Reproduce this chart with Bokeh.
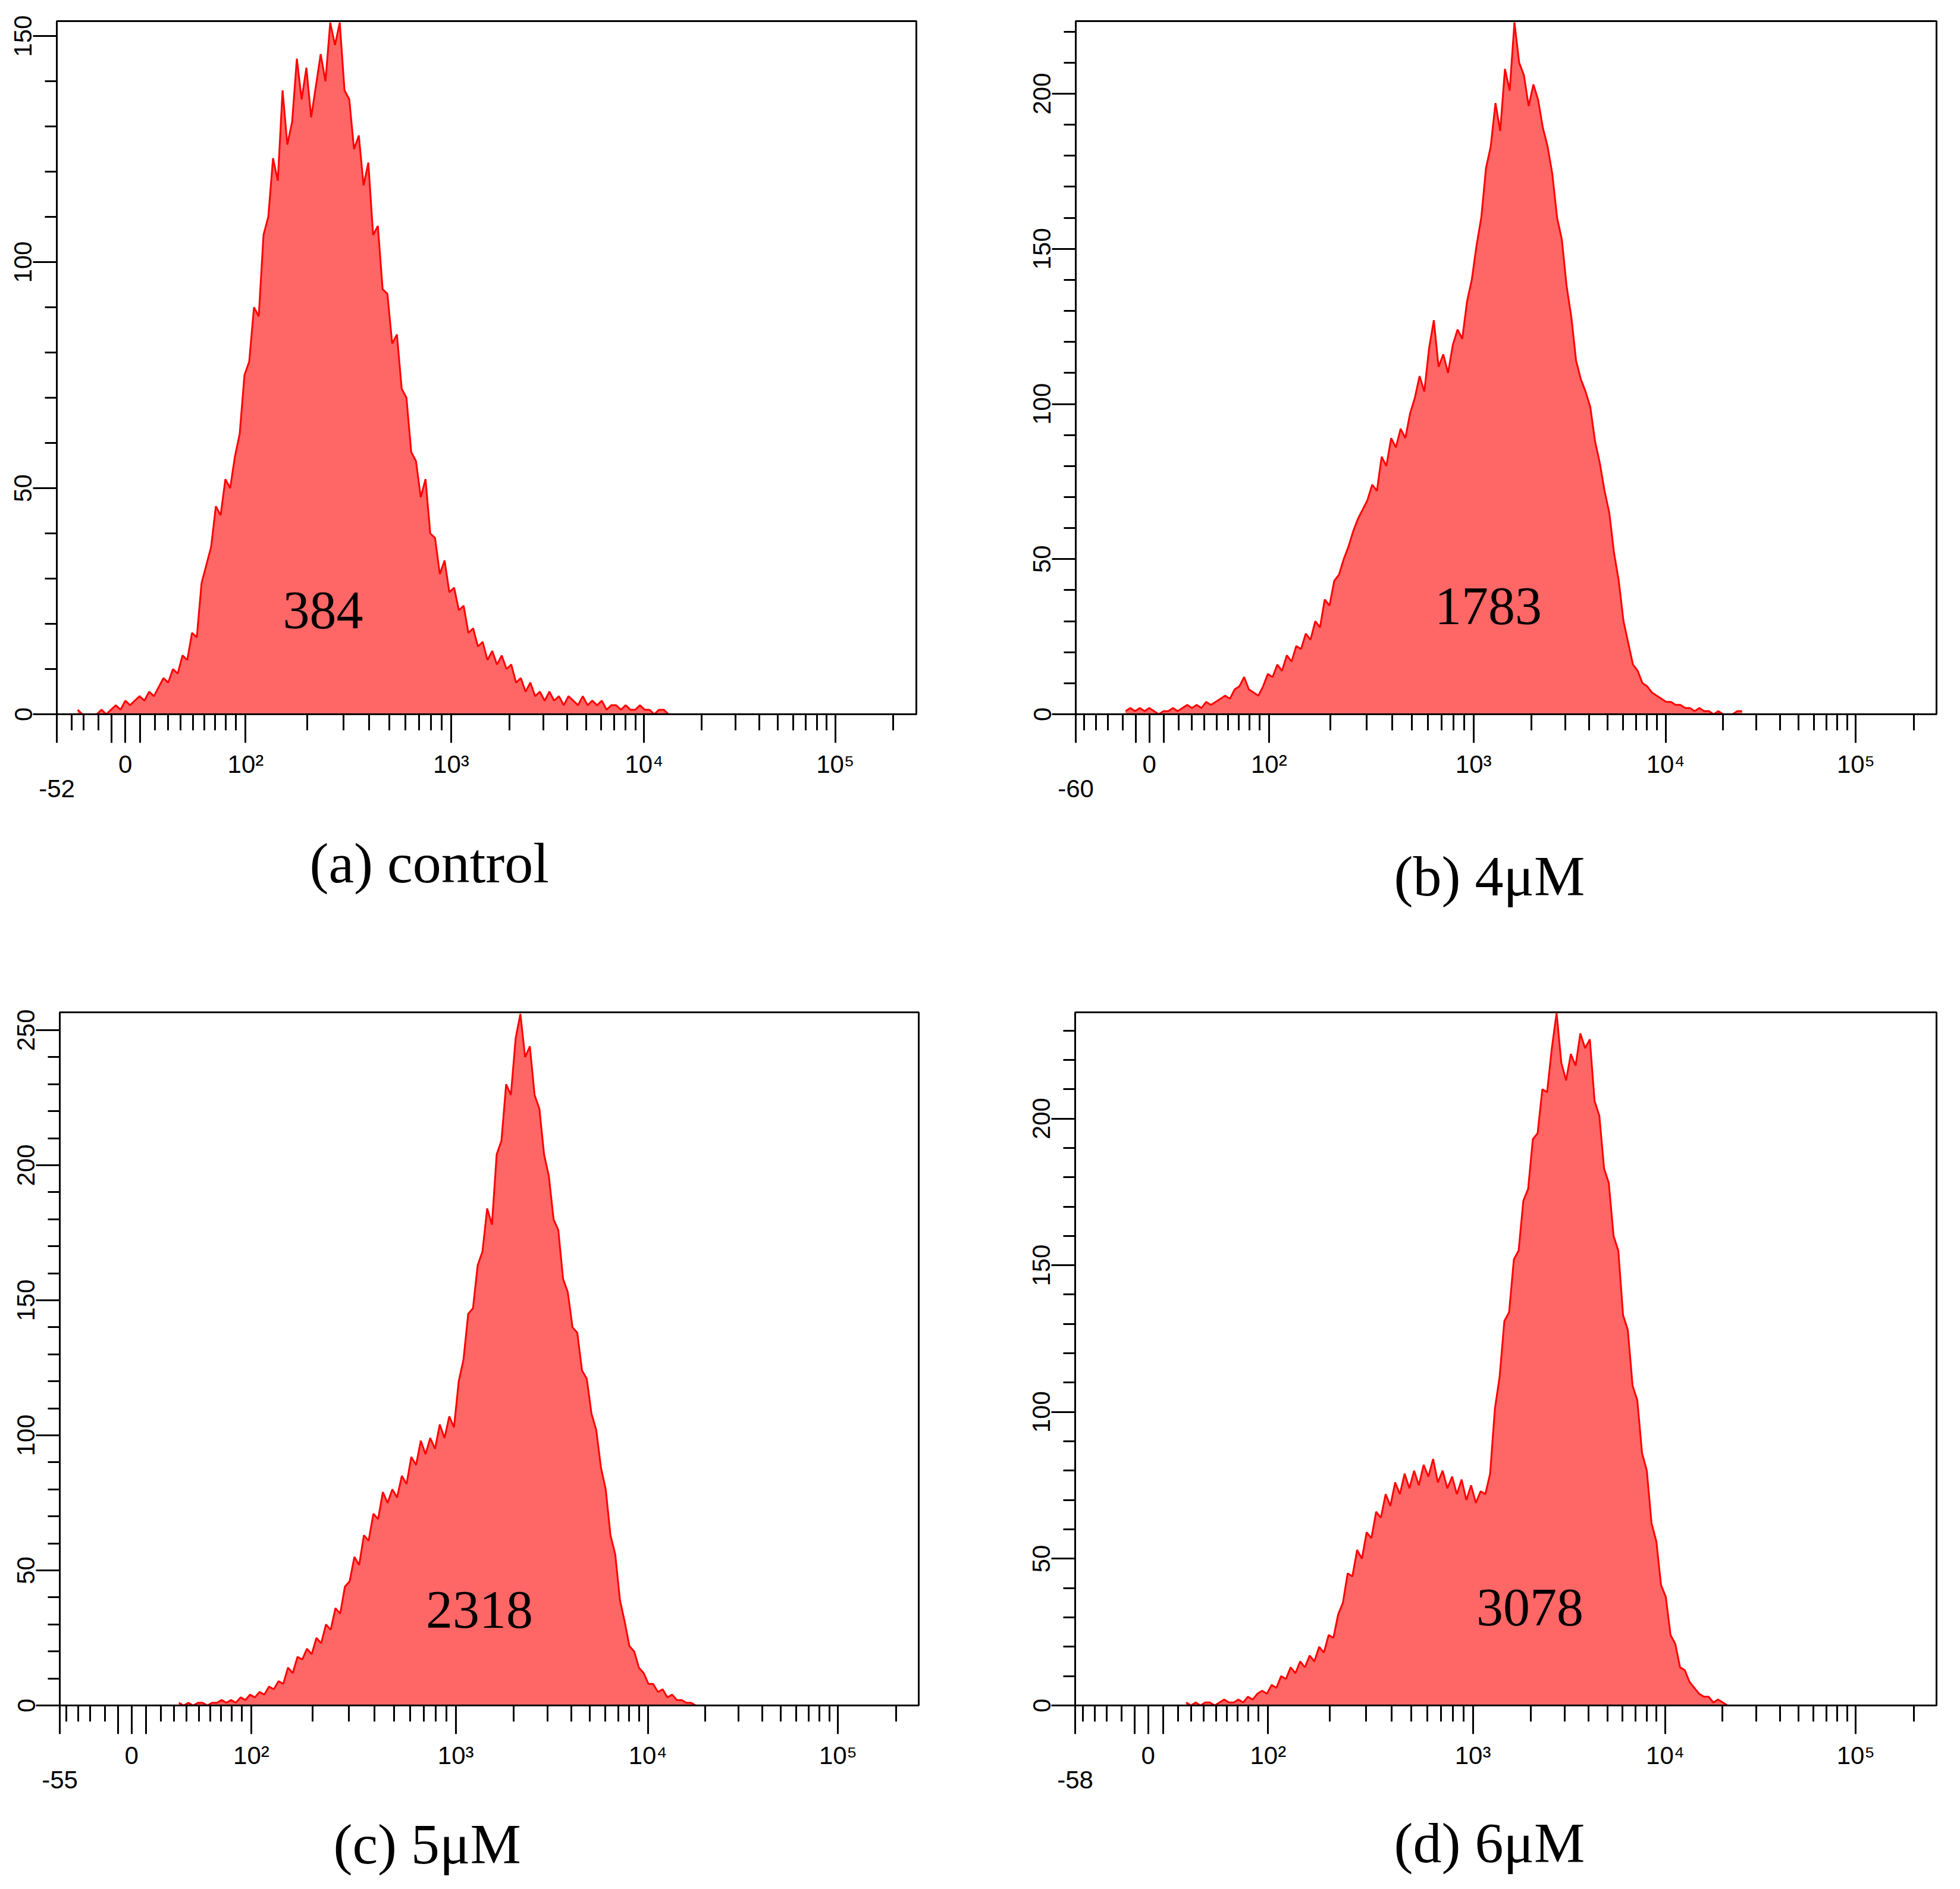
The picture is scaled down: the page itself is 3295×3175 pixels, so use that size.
import numpy as np
from bokeh.plotting import figure
from bokeh.models import (FixedTicker, SingleIntervalTicker, Label, Range1d, ColumnDataSource,
                          LinearAxis, Title)
from bokeh.layouts import row, column
from bokeh.embed import file_html
from bokeh.resources import INLINE

# ---------------- data ----------------
CH_W = 8  # width of one histogram channel (axis units of the logicle scale)

# (a) control
a_first = -10
a_counts = [1, 0, 0, 0, 0, 1, 0, 1, 2, 1,
            3, 2, 3, 4, 3, 5, 4, 6, 8, 7,
            10, 9, 13, 12, 18, 17, 29, 33, 37, 46,
            44, 52, 50, 57, 62, 75, 78, 90, 88, 106,
            110, 123, 118, 138, 126, 131, 145, 136, 143, 132,
            139, 146, 140, 153, 148, 153, 138, 136, 125, 128,
            117, 122, 106, 108, 94, 93, 82, 84, 72, 70,
            58, 56, 48, 52, 40, 39, 31, 34, 27, 28,
            23, 24, 18, 19, 15, 16, 12, 14, 11, 13,
            10, 11, 7, 8, 5, 7, 4, 5, 3, 5,
            3, 4, 2, 4, 3, 2, 4, 2, 3, 2,
            3, 1, 2, 2, 1, 2, 1, 1, 2, 1,
            1, 0, 1, 1, 0]

# (b) 4 uM
b_first = -5
b_counts = [1, 2, 1, 2, 1, 2, 1, 0, 1, 1,
            2, 1, 2, 3, 2, 3, 2, 4, 3, 4,
            5, 6, 5, 8, 9, 12, 8, 7, 6, 9,
            13, 12, 16, 14, 19, 17, 22, 21, 26, 24,
            30, 28, 37, 35, 43, 45, 50, 54, 59, 63,
            66, 69, 74, 72, 83, 80, 89, 86, 92, 89,
            97, 102, 109, 104, 118, 127, 112, 116, 110, 119,
            124, 121, 133, 140, 151, 160, 176, 183, 197, 188,
            208, 201, 223, 210, 206, 196, 203, 198, 189, 183,
            174, 160, 153, 138, 128, 114, 108, 104, 99, 88,
            81, 72, 65, 52, 43, 30, 23, 16, 14, 10,
            9, 7, 6, 5, 4, 4, 3, 3, 2, 2,
            1, 2, 1, 1, 0, 1, 0, 0, 0, 1, 1]

# (c) 5 uM
c_first = 10
c_counts = [1, 0, 1, 0, 1, 1, 0, 1, 1, 2,
            1, 2, 1, 3, 2, 4, 3, 5, 4, 7,
            6, 9, 8, 14, 12, 18, 17, 21, 19, 25,
            23, 30, 28, 36, 34, 44, 46, 55, 52, 63,
            61, 71, 69, 79, 75, 80, 77, 85, 82, 92,
            89, 98, 93, 99, 95, 104, 99, 107, 103, 120,
            128, 145, 147, 163, 168, 184, 178, 204, 209, 230,
            226, 247, 256, 240, 244, 226, 221, 204, 196, 180,
            176, 158, 153, 140, 138, 124, 121, 108, 102, 88,
            80, 63, 56, 39, 31, 22, 20, 14, 12, 8,
            8, 5, 6, 3, 4, 2, 2, 1, 1, 0]

# (d) 6 uM
d_first = 8
d_counts = [1, 0, 1, 0, 1, 1, 0, 1, 2, 1,
            1, 2, 1, 3, 2, 4, 5, 4, 7, 6,
            10, 9, 13, 11, 15, 13, 17, 15, 20, 18,
            24, 23, 31, 35, 45, 44, 53, 50, 59, 57,
            66, 64, 72, 68, 76, 72, 79, 74, 80, 75,
            82, 78, 84, 76, 80, 74, 78, 72, 77, 70,
            75, 69, 73, 72, 79, 101, 112, 131, 134, 152,
            155, 172, 176, 193, 195, 210, 209, 224, 236, 219,
            213, 222, 218, 229, 224, 227, 206, 201, 183, 178,
            160, 155, 133, 128, 109, 104, 86, 80, 62, 56,
            41, 37, 24, 21, 13, 12, 8, 6, 4, 3,
            3, 1, 2, 1, 0]

panel_labels = ["(a) control", "(b) 4\u03bcM", "(c) 5\u03bcM", "(d) 6\u03bcM"]
mean_values = ["384", "1783", "2318", "3078"]
axis_lows = [-52, -60, -55, -58]
y_maxes = [153.3, 223.4, 256.6, 236.2]

# ------------- logicle-like axis transform (value -> axis position) -------------
LIN_V = [-60, -58, -55, -52, -50, -40, -30, -20, -10, 0, 10, 20, 30, 40, 50, 60, 70, 80, 90, 100]
LIN_P = [-124, -123, -121, -115, -110, -90, -70, -45, -23, 0, 25, 50, 72, 93, 114, 133, 151, 169, 186, 202]
LOG_D = [2, 3, 4, 5, 5.42]
LOG_P = [202, 547, 871, 1192, 1328]
X_END = 1328


def T(v):
    v = np.atleast_1d(np.asarray(v, dtype=float))
    out = np.interp(v, LIN_V, LIN_P)
    hi = v > 100
    out[hi] = np.interp(np.log10(v[hi]), LOG_D, LOG_P)
    return np.round(out, 2)


SUP = {2: "10\u00b2", 3: "10\u00b3", 4: "10\u2074", 5: "10\u2075"}

FILL = "#ff6666"
EDGE = "#ff0000"
TICK_FONT = "Liberation Sans"
SERIF = "Liberation Serif"


def style_axis(ax):
    ax.axis_line_color = "black"
    ax.axis_line_width = 3
    ax.major_tick_line_color = "black"
    ax.major_tick_line_width = 3
    ax.minor_tick_line_color = "black"
    ax.minor_tick_line_width = 3
    ax.major_tick_in = 0
    ax.minor_tick_in = 0
    ax.major_label_text_font = TICK_FONT
    ax.major_label_text_font_size = "42px"
    ax.major_label_text_color = "black"


def make_panel(first, counts, lo, ymax, geom, num_pos, cap, num_text, cap_text):
    W, H, L, R, TP, B = geom
    p = figure(width=W, height=H, min_border_left=L, min_border_right=R,
               min_border_top=TP, min_border_bottom=B,
               x_range=Range1d(float(T(lo)[0]), X_END), y_range=Range1d(0, ymax),
               output_backend="svg", toolbar_location=None, tools="")
    p.background_fill_color = "white"
    p.border_fill_color = "white"
    p.outline_line_color = "black"
    p.outline_line_width = 3
    p.xgrid.visible = False
    p.ygrid.visible = False

    x = (first + np.arange(len(counts))) * CH_W
    src = ColumnDataSource(dict(x=x, y=np.array(counts, dtype=float)))
    p.varea(x="x", y1=0, y2="y", source=src, fill_color=FILL, fill_alpha=1.0)
    p.line(x="x", y="y", source=src, line_color=EDGE, line_width=3)

    # x axis ticks
    major_vals = [lo, -10, 0, 10, 1e2, 1e3, 1e4, 1e5]
    major = [float(t) for t in T(major_vals)]
    minor_vals = [v for v in [-50, -40, -30, -20] if v > lo + 3]
    minor_vals += [20, 30, 40, 50, 60, 70, 80, 90]
    for d in [1e2, 1e3, 1e4]:
        minor_vals += [m * d for m in range(2, 10)]
    minor_vals += [2e5]
    minor = [float(t) for t in T(minor_vals)]
    p.xaxis.ticker = FixedTicker(ticks=major, minor_ticks=minor)
    overrides = {major[0]: "", major[1]: "", major[2]: "0", major[3]: ""}
    for k, e in zip(major[4:], [2, 3, 4, 5]):
        overrides[k] = SUP[e]
    p.xaxis.major_label_overrides = overrides

    style_axis(p.xaxis[0])
    style_axis(p.yaxis[0])
    p.xaxis.major_tick_out = 48
    p.xaxis.minor_tick_out = 27
    p.xaxis.major_label_standoff = 12

    p.yaxis.ticker = SingleIntervalTicker(interval=50, num_minor_ticks=5)
    p.yaxis.major_tick_out = 40
    p.yaxis.minor_tick_out = 20
    p.yaxis.major_label_orientation = "vertical"
    p.yaxis.major_label_standoff = 2

    # second axis row: only the lower bound label, drawn lower than the others
    low_axis = LinearAxis(ticker=FixedTicker(ticks=[major[0]], minor_ticks=[]))
    style_axis(low_axis)
    low_axis.axis_line_alpha = 0
    low_axis.major_tick_line_alpha = 0
    low_axis.major_tick_out = 0
    low_axis.minor_tick_out = 0
    low_axis.major_label_standoff = 0
    low_axis.major_label_overrides = {major[0]: str(lo)}
    p.add_layout(low_axis, "below")

    # mean fluorescence value
    p.add_layout(Label(x=num_pos[0], y=num_pos[1], text=num_text, text_font=SERIF,
                       text_font_size="90px", text_color="black",
                       text_align="center", text_baseline="middle"))
    # spacer row, then the panel caption
    p.add_layout(Title(text=" ", standoff=cap[1], text_font_size="1px",
                       text_color="white"), "below")
    p.add_layout(Title(text=cap_text, align="left", offset=cap[0], standoff=0,
                       text_font=SERIF, text_font_size="96px", text_font_style="normal",
                       text_color="black"), "below")
    return p


# geometry: (width, height, border_left, border_right, border_top, border_bottom)
geoms = [
    (1672, 1592, 95, 132, 35, 392),
    (1607, 1592, 136, 24, 35, 392),
    (1672, 1567, 100, 128, 103, 293),
    (1607, 1567, 135, 24, 109, 289),
]
num_positions = [(332, 23.0), (572, 34.9), (587, 35.3), (643, 33.3)]
# caption: (offset from frame left, spacer height above it)
cap_layout = [(425, 49), (535, 71), (460, 32), (536, 30)]

firsts = [a_first, b_first, c_first, d_first]
all_counts = [a_counts, b_counts, c_counts, d_counts]

panels = []
for i in range(4):
    panels.append(make_panel(firsts[i], all_counts[i], axis_lows[i], y_maxes[i], geoms[i],
                             num_positions[i], cap_layout[i],
                             mean_values[i], panel_labels[i]))

layout = column(row(panels[0], panels[1]), row(panels[2], panels[3]))

with open("out.html", "w") as f:
    f.write(file_html(layout, INLINE))
